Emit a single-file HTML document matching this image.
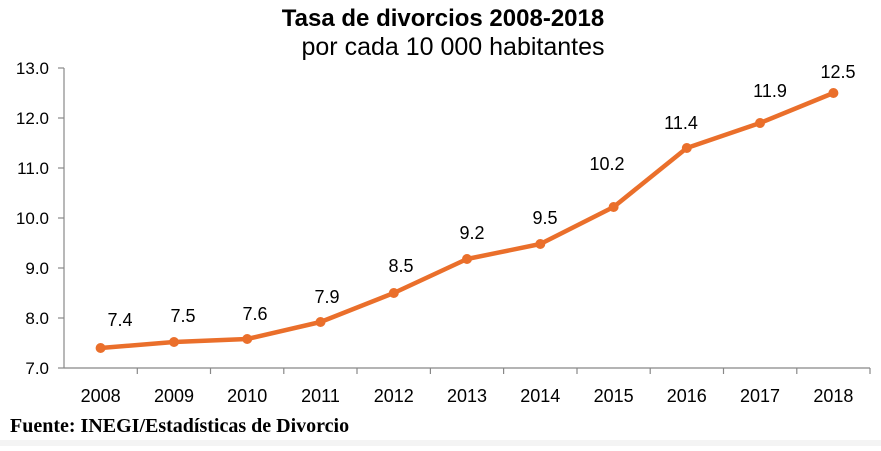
<!DOCTYPE html>
<html><head><meta charset="utf-8"><style>
body{margin:0;background:#fff;width:881px;height:446px;overflow:hidden}
</style></head><body>
<svg width="881" height="446" xmlns="http://www.w3.org/2000/svg" font-family="'Liberation Sans', sans-serif">
<rect x="0" y="440" width="881" height="6" fill="#f4f4f4"/>
<text x="443" y="26" text-anchor="middle" font-size="24" font-weight="bold" fill="#000">Tasa de divorcios 2008-2018</text>
<text x="453" y="55" text-anchor="middle" font-size="25" fill="#000">por cada 10 000 habitantes</text>
<g stroke="#888" stroke-width="1.2">
<line x1="64" y1="68" x2="64" y2="368"/>
<line x1="64" y1="368" x2="870" y2="368"/>
<line x1="58" y1="68" x2="64" y2="68"/><line x1="58" y1="118" x2="64" y2="118"/><line x1="58" y1="168" x2="64" y2="168"/><line x1="58" y1="218" x2="64" y2="218"/><line x1="58" y1="268" x2="64" y2="268"/><line x1="58" y1="318" x2="64" y2="318"/><line x1="58" y1="368" x2="64" y2="368"/>
<line x1="137.3" y1="368" x2="137.3" y2="374"/><line x1="210.5" y1="368" x2="210.5" y2="374"/><line x1="283.8" y1="368" x2="283.8" y2="374"/><line x1="357" y1="368" x2="357" y2="374"/><line x1="430.4" y1="368" x2="430.4" y2="374"/><line x1="503.6" y1="368" x2="503.6" y2="374"/><line x1="577" y1="368" x2="577" y2="374"/><line x1="650.2" y1="368" x2="650.2" y2="374"/><line x1="723.5" y1="368" x2="723.5" y2="374"/><line x1="796.8" y1="368" x2="796.8" y2="374"/><line x1="870" y1="368" x2="870" y2="374"/>
</g>
<g font-size="17" fill="#000" text-anchor="end">
<text x="49" y="74">13.0</text><text x="49" y="124">12.0</text><text x="49" y="174">11.0</text><text x="49" y="224">10.0</text><text x="49" y="274">9.0</text><text x="49" y="324">8.0</text><text x="49" y="374">7.0</text>
</g>
<g font-size="18" fill="#000" text-anchor="middle">
<text x="100.6" y="402">2008</text><text x="174" y="402">2009</text><text x="247.2" y="402">2010</text><text x="320.5" y="402">2011</text><text x="393.8" y="402">2012</text><text x="467" y="402">2013</text><text x="540.3" y="402">2014</text><text x="613.6" y="402">2015</text><text x="686.8" y="402">2016</text><text x="760" y="402">2017</text><text x="833.4" y="402">2018</text>
</g>
<polyline fill="none" stroke="#ea6f2b" stroke-width="4.5" stroke-linejoin="round" points="100.6,348 174,342 247.2,339 320.5,322 393.8,293 467,259 540.3,244 613.6,207 686.8,148 760,123 833.4,93"/>
<g fill="#ea6f2b">
<circle cx="100.6" cy="348" r="5"/><circle cx="174" cy="342" r="5"/><circle cx="247.2" cy="339" r="5"/><circle cx="320.5" cy="322" r="5"/><circle cx="393.8" cy="293" r="5"/><circle cx="467" cy="259" r="5"/><circle cx="540.3" cy="244" r="5"/><circle cx="613.6" cy="207" r="5"/><circle cx="686.8" cy="148" r="5"/><circle cx="760" cy="123" r="5"/><circle cx="833.4" cy="93" r="5"/>
</g>
<g font-size="18" fill="#000" text-anchor="middle">
<text x="120" y="326">7.4</text><text x="183" y="322">7.5</text><text x="255" y="320">7.6</text><text x="327" y="303">7.9</text><text x="401" y="272">8.5</text><text x="472" y="239">9.2</text><text x="545" y="224">9.5</text><text x="607" y="170">10.2</text><text x="681" y="129">11.4</text><text x="770" y="97">11.9</text><text x="838" y="78">12.5</text>
</g>
<text x="10" y="432" font-family="'Liberation Serif', serif" font-weight="bold" font-size="20" fill="#000">Fuente: INEGI/Estadísticas de Divorcio</text>
</svg>
</body></html>
